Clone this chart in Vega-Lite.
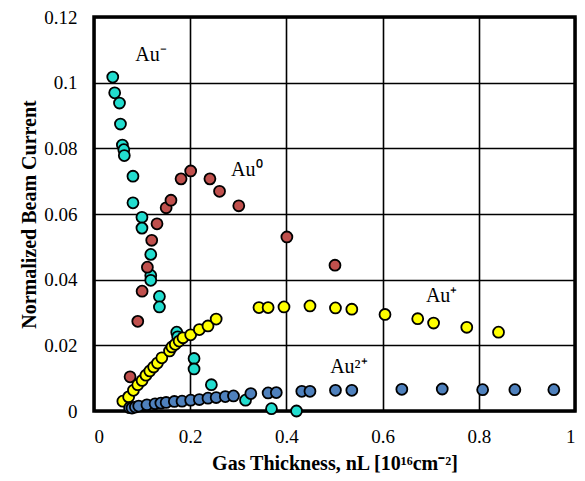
{
  "$schema": "https://vega.github.io/schema/vega-lite/v6.json",
  "width": 481,
  "height": 394,
  "autosize": "none",
  "padding": {"left": 94, "top": 17, "right": 10, "bottom": 70},
  "config": {
    "font": "Liberation Serif",
    "view": {"stroke": "black", "strokeWidth": 3.5},
    "axis": {
      "grid": true, "gridColor": "black", "gridWidth": 1.6, "gridOpacity": 1,
      "domain": false, "ticks": false,
      "labelFont": "Liberation Serif", "labelFontSize": 19, "labelColor": "black",
      "titleFont": "Liberation Serif", "titleFontSize": 20, "titleFontWeight": "bold", "titleColor": "black"
    }
  },
  "datasets": {
    "pts": [
      {"s": "Au-", "x": 0.039, "y": 0.1017},
      {"s": "Au-", "x": 0.043, "y": 0.0969},
      {"s": "Au-", "x": 0.053, "y": 0.0938},
      {"s": "Au-", "x": 0.055, "y": 0.0874},
      {"s": "Au-", "x": 0.059, "y": 0.0810},
      {"s": "Au-", "x": 0.062, "y": 0.0796},
      {"s": "Au-", "x": 0.063, "y": 0.0778},
      {"s": "Au-", "x": 0.081, "y": 0.0715},
      {"s": "Au-", "x": 0.081, "y": 0.0634},
      {"s": "Au-", "x": 0.0997, "y": 0.0590},
      {"s": "Au-", "x": 0.0997, "y": 0.0557},
      {"s": "Au-", "x": 0.118, "y": 0.0477},
      {"s": "Au-", "x": 0.118, "y": 0.0413},
      {"s": "Au-", "x": 0.118, "y": 0.0398},
      {"s": "Au-", "x": 0.136, "y": 0.0349},
      {"s": "Au-", "x": 0.136, "y": 0.0317},
      {"s": "Au-", "x": 0.172, "y": 0.0240},
      {"s": "Au-", "x": 0.174, "y": 0.0226},
      {"s": "Au-", "x": 0.208, "y": 0.0160},
      {"s": "Au-", "x": 0.208, "y": 0.0128},
      {"s": "Au-", "x": 0.244, "y": 0.0080},
      {"s": "Au-", "x": 0.315, "y": 0.0033},
      {"s": "Au-", "x": 0.369, "y": 0.0007},
      {"s": "Au-", "x": 0.421, "y": 0.0000},
      {"s": "Au0", "x": 0.075, "y": 0.0104},
      {"s": "Au0", "x": 0.091, "y": 0.0273},
      {"s": "Au0", "x": 0.100, "y": 0.0365},
      {"s": "Au0", "x": 0.111, "y": 0.0438},
      {"s": "Au0", "x": 0.120, "y": 0.0520},
      {"s": "Au0", "x": 0.131, "y": 0.0570},
      {"s": "Au0", "x": 0.150, "y": 0.0619},
      {"s": "Au0", "x": 0.160, "y": 0.0642},
      {"s": "Au0", "x": 0.181, "y": 0.0707},
      {"s": "Au0", "x": 0.201, "y": 0.0731},
      {"s": "Au0", "x": 0.241, "y": 0.0707},
      {"s": "Au0", "x": 0.261, "y": 0.0669},
      {"s": "Au0", "x": 0.301, "y": 0.0625},
      {"s": "Au0", "x": 0.401, "y": 0.0530},
      {"s": "Au0", "x": 0.501, "y": 0.0444},
      {"s": "Au+", "x": 0.060, "y": 0.0030},
      {"s": "Au+", "x": 0.072, "y": 0.0043},
      {"s": "Au+", "x": 0.082, "y": 0.0063},
      {"s": "Au+", "x": 0.091, "y": 0.0080},
      {"s": "Au+", "x": 0.100, "y": 0.0093},
      {"s": "Au+", "x": 0.108, "y": 0.0109},
      {"s": "Au+", "x": 0.116, "y": 0.0122},
      {"s": "Au+", "x": 0.124, "y": 0.0134},
      {"s": "Au+", "x": 0.132, "y": 0.0146},
      {"s": "Au+", "x": 0.141, "y": 0.0162},
      {"s": "Au+", "x": 0.157, "y": 0.0183},
      {"s": "Au+", "x": 0.162, "y": 0.0195},
      {"s": "Au+", "x": 0.169, "y": 0.0203},
      {"s": "Au+", "x": 0.177, "y": 0.0213},
      {"s": "Au+", "x": 0.185, "y": 0.0223},
      {"s": "Au+", "x": 0.201, "y": 0.0232},
      {"s": "Au+", "x": 0.219, "y": 0.0248},
      {"s": "Au+", "x": 0.237, "y": 0.0259},
      {"s": "Au+", "x": 0.254, "y": 0.0280},
      {"s": "Au+", "x": 0.343, "y": 0.0315},
      {"s": "Au+", "x": 0.362, "y": 0.0315},
      {"s": "Au+", "x": 0.395, "y": 0.0317},
      {"s": "Au+", "x": 0.449, "y": 0.0320},
      {"s": "Au+", "x": 0.502, "y": 0.0314},
      {"s": "Au+", "x": 0.536, "y": 0.0310},
      {"s": "Au+", "x": 0.605, "y": 0.0294},
      {"s": "Au+", "x": 0.673, "y": 0.0281},
      {"s": "Au+", "x": 0.706, "y": 0.0268},
      {"s": "Au+", "x": 0.775, "y": 0.0255},
      {"s": "Au+", "x": 0.841, "y": 0.0240},
      {"s": "Au2+", "x": 0.074, "y": 0.0010},
      {"s": "Au2+", "x": 0.079, "y": 0.0009},
      {"s": "Au2+", "x": 0.086, "y": 0.0012},
      {"s": "Au2+", "x": 0.093, "y": 0.0015},
      {"s": "Au2+", "x": 0.110, "y": 0.0019},
      {"s": "Au2+", "x": 0.127, "y": 0.0022},
      {"s": "Au2+", "x": 0.139, "y": 0.0024},
      {"s": "Au2+", "x": 0.150, "y": 0.0026},
      {"s": "Au2+", "x": 0.167, "y": 0.0029},
      {"s": "Au2+", "x": 0.183, "y": 0.0030},
      {"s": "Au2+", "x": 0.201, "y": 0.0033},
      {"s": "Au2+", "x": 0.219, "y": 0.0035},
      {"s": "Au2+", "x": 0.237, "y": 0.0039},
      {"s": "Au2+", "x": 0.254, "y": 0.0041},
      {"s": "Au2+", "x": 0.273, "y": 0.0044},
      {"s": "Au2+", "x": 0.290, "y": 0.0046},
      {"s": "Au2+", "x": 0.326, "y": 0.0053},
      {"s": "Au2+", "x": 0.362, "y": 0.0055},
      {"s": "Au2+", "x": 0.379, "y": 0.0056},
      {"s": "Au2+", "x": 0.432, "y": 0.0060},
      {"s": "Au2+", "x": 0.449, "y": 0.0060},
      {"s": "Au2+", "x": 0.502, "y": 0.0063},
      {"s": "Au2+", "x": 0.536, "y": 0.0063},
      {"s": "Au2+", "x": 0.640, "y": 0.0066},
      {"s": "Au2+", "x": 0.724, "y": 0.0067},
      {"s": "Au2+", "x": 0.808, "y": 0.0065},
      {"s": "Au2+", "x": 0.875, "y": 0.0065},
      {"s": "Au2+", "x": 0.956, "y": 0.0065}
    ],
    "labels": [
      {"label": "Au⁻", "x": 0.086, "y": 0.1083},
      {"label": "Au⁰", "x": 0.285, "y": 0.0733},
      {"label": "Au⁺", "x": 0.690, "y": 0.0349},
      {"label": "Au²⁺", "x": 0.491, "y": 0.0133}
    ]
  },
  "layer": [
    {
      "data": {"name": "pts"},
      "mark": {"type": "point", "filled": true, "size": 120, "stroke": "black", "strokeWidth": 1.8, "opacity": 1},
      "encoding": {
        "x": {"field": "x", "type": "quantitative", "scale": {"domain": [0, 1], "nice": false},
              "axis": {"values": [0, 0.2, 0.4, 0.6, 0.8, 1], "format": "~g", "labelPadding": 16, "titlePadding": 7,
                       "title": "Gas Thickness, nL [10¹⁶cm⁻²]"}},
        "y": {"field": "y", "type": "quantitative", "scale": {"domain": [0, 0.12], "nice": false},
              "axis": {"values": [0, 0.02, 0.04, 0.06, 0.08, 0.1, 0.12], "format": "~g", "labelPadding": 17, "titlePadding": 4,
                       "title": "Normalized Beam Current"}},
        "fill": {"field": "s", "type": "nominal", "legend": null,
                 "scale": {"domain": ["Au-", "Au0", "Au+", "Au2+"], "range": ["#22DDCF", "#C0504D", "#FFFF00", "#4F81BD"]}}
      }
    },
    {
      "data": {"name": "labels"},
      "mark": {"type": "text", "align": "left", "baseline": "middle", "font": "Liberation Serif", "fontSize": 20, "color": "black"},
      "encoding": {
        "x": {"field": "x", "type": "quantitative"},
        "y": {"field": "y", "type": "quantitative"},
        "text": {"field": "label"}
      }
    }
  ]
}
